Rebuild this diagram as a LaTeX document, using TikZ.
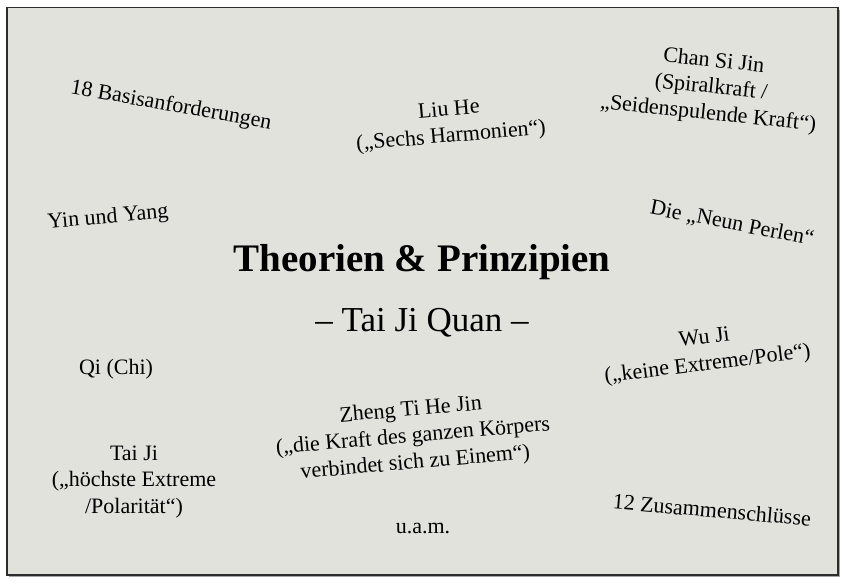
\documentclass[tikz,border=0pt]{standalone}
\usepackage{fontspec}
\setmainfont{Liberation Serif}
\begin{document}
\begin{tikzpicture}[x=1pt,y=-1pt,
  lbl/.style={inner sep=0pt, align=center, font=\fontsize{22}{26.5}\selectfont, text=black},
  ttl/.style={inner sep=0pt, align=center, font=\fontsize{39}{44}\selectfont\bfseries},
  sub/.style={inner sep=0pt, align=center, font=\fontsize{35}{40}\selectfont}]
\definecolor{paper}{RGB}{226,226,220}
\definecolor{frame}{RGB}{45,45,45}
\useasboundingbox (0,0) rectangle (845,584);
\fill[white] (0,0) rectangle (845,584);
\fill[black!35] (9,10) rectangle (840,577);
\draw[frame, line width=1.4pt, fill=paper] (7,7.5) rectangle (838,575);
\node[ttl] (title) at (422,262) {Theorien \& Prinzipien};
\node[sub] (subtitle) at (422,323) {– Tai Ji Quan –};
\node[lbl, rotate=-10] (basis) at (171,106) {18 Basisanforderungen};
\node[lbl, rotate=5] (liuhe) at (450,124) {Liu He\\(„Sechs Harmonien“)};
\node[lbl, rotate=-6] (chan) at (711,88) {Chan Si Jin\\(Spiralkraft /\\„Seidenspulende Kraft“)};
\node[lbl, rotate=5] (yin) at (108,218) {Yin und Yang};
\node[lbl, rotate=-11] (neun) at (732,224) {Die „Neun Perlen“};
\node[lbl, rotate=7] (wuji) at (706,352) {Wu Ji\\(„keine Extreme/Pole“)};
\node[lbl] (qi) at (116,369) {Qi (Chi)};
\node[lbl, rotate=5] (zheng) at (413,437) {Zheng Ti He Jin\\(„die Kraft des ganzen Körpers\\verbindet sich zu Einem“)};
\node[lbl] (taiji) at (134,482) {Tai Ji\\(„höchste Extreme\\/Polarität“)};
\node[lbl] (uam) at (423,528) {u.a.m.};
\node[lbl, rotate=-5] (zus) at (712,510) {12 Zusammenschlüsse};
\end{tikzpicture}
\end{document}
